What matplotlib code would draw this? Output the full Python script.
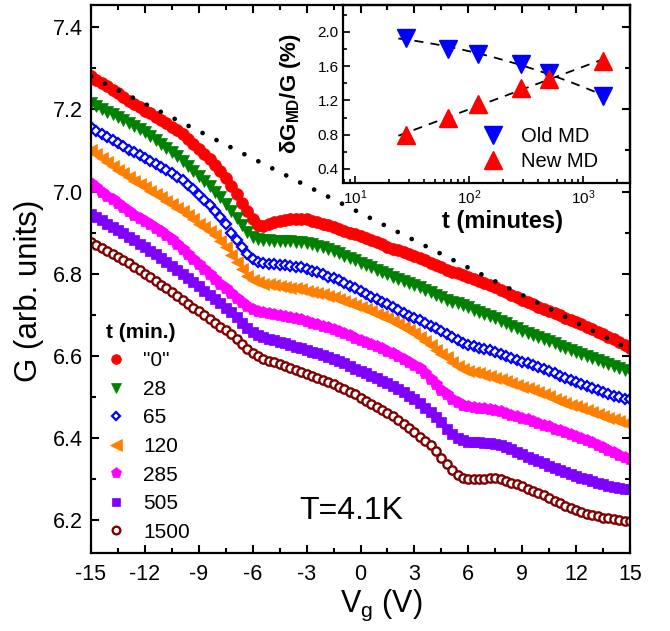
import numpy as np
import matplotlib
matplotlib.use("Agg")
import matplotlib.pyplot as plt
from matplotlib.ticker import MultipleLocator, LogLocator, NullFormatter

plt.rcParams['font.family'] = ['Liberation Sans', 'DejaVu Sans']
plt.rcParams['mathtext.fontset'] = 'custom'
plt.rcParams['mathtext.rm'] = 'Liberation Sans'
plt.rcParams['mathtext.it'] = 'Liberation Sans:italic'
plt.rcParams['mathtext.bf'] = 'Liberation Sans:bold'
plt.rcParams['axes.unicode_minus'] = False

# ---------------- data ----------------
vg = np.linspace(-15, 15, 101)

g_0 = [7.280, 7.272, 7.264, 7.256, 7.248, 7.240, 7.229, 7.220, 7.212, 7.205,
       7.197, 7.190, 7.182, 7.174, 7.166, 7.158, 7.149, 7.139, 7.128, 7.116,
       7.103, 7.091, 7.078, 7.065, 7.050, 7.033, 7.014, 6.994, 6.973, 6.953,
       6.933, 6.918, 6.917, 6.921, 6.925, 6.929, 6.931, 6.933, 6.933, 6.933,
       6.932, 6.929, 6.926, 6.922, 6.918, 6.914, 6.909, 6.905, 6.900, 6.896,
       6.891, 6.886, 6.881, 6.876, 6.871, 6.866, 6.861, 6.857, 6.853, 6.848,
       6.844, 6.839, 6.833, 6.827, 6.821, 6.815, 6.810, 6.805, 6.801, 6.797,
       6.793, 6.788, 6.783, 6.778, 6.773, 6.767, 6.761, 6.755, 6.749, 6.743,
       6.737, 6.731, 6.726, 6.720, 6.715, 6.710, 6.704, 6.699, 6.693, 6.688,
       6.683, 6.677, 6.671, 6.665, 6.659, 6.653, 6.646, 6.640, 6.633, 6.627,
       6.620]

g_28 = [7.215, 7.208, 7.201, 7.194, 7.188, 7.181, 7.174, 7.167, 7.160, 7.152,
        7.144, 7.135, 7.126, 7.116, 7.106, 7.096, 7.086, 7.075, 7.063, 7.050,
        7.037, 7.025, 7.013, 7.000, 6.986, 6.970, 6.953, 6.936, 6.919, 6.902,
        6.890, 6.884, 6.882, 6.881, 6.880, 6.880, 6.879, 6.879, 6.878, 6.877,
        6.875, 6.872, 6.868, 6.864, 6.859, 6.855, 6.850, 6.844, 6.838, 6.833,
        6.827, 6.821, 6.815, 6.810, 6.805, 6.799, 6.793, 6.788, 6.783, 6.777,
        6.772, 6.767, 6.761, 6.755, 6.749, 6.743, 6.737, 6.732, 6.728, 6.723,
        6.718, 6.712, 6.707, 6.702, 6.696, 6.691, 6.685, 6.679, 6.673, 6.667,
        6.661, 6.656, 6.651, 6.646, 6.641, 6.635, 6.630, 6.625, 6.620, 6.614,
        6.609, 6.604, 6.599, 6.594, 6.589, 6.584, 6.579, 6.575, 6.570, 6.566,
        6.562]

g_65 = [7.156, 7.148, 7.140, 7.133, 7.125, 7.117, 7.110, 7.102, 7.095, 7.088,
        7.081, 7.074, 7.067, 7.059, 7.052, 7.044, 7.036, 7.027, 7.017, 7.005,
        6.992, 6.979, 6.966, 6.952, 6.937, 6.920, 6.900, 6.882, 6.864, 6.847,
        6.835, 6.829, 6.826, 6.824, 6.823, 6.822, 6.821, 6.819, 6.817, 6.815,
        6.811, 6.807, 6.803, 6.798, 6.793, 6.789, 6.784, 6.778, 6.771, 6.764,
        6.757, 6.750, 6.744, 6.738, 6.731, 6.725, 6.718, 6.712, 6.705, 6.698,
        6.692, 6.686, 6.679, 6.673, 6.667, 6.660, 6.654, 6.646, 6.639, 6.632,
        6.627, 6.623, 6.620, 6.617, 6.613, 6.609, 6.605, 6.600, 6.595, 6.591,
        6.586, 6.582, 6.577, 6.572, 6.567, 6.562, 6.557, 6.551, 6.546, 6.541,
        6.536, 6.531, 6.526, 6.521, 6.516, 6.512, 6.507, 6.503, 6.499, 6.496,
        6.494]

g_120 = [7.100, 7.091, 7.081, 7.072, 7.062, 7.053, 7.044, 7.035, 7.026, 7.018,
         7.010, 7.002, 6.994, 6.986, 6.978, 6.970, 6.961, 6.952, 6.942, 6.932,
         6.922, 6.913, 6.903, 6.893, 6.880, 6.864, 6.846, 6.829, 6.812, 6.795,
         6.784, 6.779, 6.776, 6.774, 6.772, 6.770, 6.768, 6.766, 6.764, 6.762,
         6.759, 6.756, 6.753, 6.750, 6.746, 6.743, 6.739, 6.734, 6.729, 6.724,
         6.719, 6.714, 6.709, 6.703, 6.698, 6.691, 6.684, 6.677, 6.670, 6.663,
         6.655, 6.647, 6.637, 6.626, 6.615, 6.605, 6.596, 6.586, 6.576, 6.568,
         6.563, 6.560, 6.557, 6.554, 6.551, 6.547, 6.543, 6.539, 6.534, 6.530,
         6.525, 6.521, 6.516, 6.511, 6.506, 6.501, 6.496, 6.491, 6.486, 6.481,
         6.477, 6.472, 6.467, 6.463, 6.458, 6.454, 6.449, 6.445, 6.441, 6.437,
         6.433]

g_285 = [7.020, 7.010, 7.000, 6.990, 6.981, 6.972, 6.962, 6.953, 6.944, 6.936,
         6.928, 6.920, 6.912, 6.904, 6.894, 6.884, 6.872, 6.860, 6.847, 6.835,
         6.823, 6.811, 6.799, 6.787, 6.775, 6.764, 6.752, 6.741, 6.731, 6.722,
         6.715, 6.710, 6.707, 6.705, 6.703, 6.700, 6.698, 6.695, 6.692, 6.689,
         6.685, 6.681, 6.677, 6.673, 6.669, 6.665, 6.660, 6.655, 6.650, 6.644,
         6.639, 6.633, 6.628, 6.623, 6.618, 6.612, 6.606, 6.599, 6.592, 6.585,
         6.578, 6.570, 6.557, 6.544, 6.531, 6.518, 6.507, 6.496, 6.487, 6.481,
         6.477, 6.475, 6.474, 6.473, 6.471, 6.468, 6.465, 6.461, 6.457, 6.453,
         6.449, 6.445, 6.441, 6.437, 6.432, 6.428, 6.423, 6.419, 6.414, 6.410,
         6.405, 6.400, 6.395, 6.389, 6.383, 6.377, 6.371, 6.365, 6.359, 6.354,
         6.349]

g_505 = [6.946, 6.938, 6.930, 6.922, 6.914, 6.906, 6.898, 6.890, 6.881, 6.873,
         6.864, 6.856, 6.847, 6.838, 6.829, 6.819, 6.809, 6.799, 6.789, 6.779,
         6.769, 6.759, 6.748, 6.738, 6.728, 6.717, 6.706, 6.694, 6.681, 6.668,
         6.658, 6.651, 6.646, 6.642, 6.638, 6.634, 6.630, 6.626, 6.622, 6.618,
         6.614, 6.610, 6.606, 6.602, 6.597, 6.593, 6.588, 6.582, 6.576, 6.569,
         6.563, 6.557, 6.551, 6.545, 6.539, 6.533, 6.527, 6.520, 6.512, 6.503,
         6.494, 6.484, 6.474, 6.464, 6.452, 6.438, 6.423, 6.410, 6.400, 6.394,
         6.391, 6.390, 6.389, 6.388, 6.387, 6.385, 6.382, 6.377, 6.372, 6.366,
         6.360, 6.354, 6.349, 6.344, 6.339, 6.333, 6.328, 6.323, 6.318, 6.313,
         6.308, 6.303, 6.299, 6.295, 6.291, 6.287, 6.284, 6.281, 6.278, 6.276,
         6.275]

g_1500 = [6.877, 6.870, 6.863, 6.856, 6.848, 6.841, 6.833, 6.825, 6.817, 6.808,
          6.800, 6.791, 6.782, 6.773, 6.764, 6.755, 6.745, 6.736, 6.727, 6.717,
          6.708, 6.699, 6.690, 6.681, 6.671, 6.662, 6.652, 6.641, 6.629, 6.617,
          6.606, 6.599, 6.593, 6.588, 6.584, 6.580, 6.575, 6.571, 6.566, 6.561,
          6.556, 6.551, 6.546, 6.541, 6.536, 6.531, 6.525, 6.519, 6.513, 6.506,
          6.498, 6.491, 6.483, 6.476, 6.469, 6.461, 6.453, 6.444, 6.435, 6.425,
          6.414, 6.403, 6.393, 6.383, 6.368, 6.351, 6.336, 6.321, 6.309, 6.302,
          6.299, 6.299, 6.300, 6.301, 6.302, 6.302, 6.300, 6.296, 6.291, 6.287,
          6.282, 6.277, 6.272, 6.266, 6.260, 6.254, 6.247, 6.241, 6.235, 6.230,
          6.225, 6.220, 6.216, 6.212, 6.209, 6.206, 6.204, 6.202, 6.200, 6.199,
          6.198]

series_labels = ['"0"', '28', '65', '120', '285', '505', '1500']
series_values = [g_0, g_28, g_65, g_120, g_285, g_505, g_1500]

# dotted guide line
guide_v = [-15, 15]
guide_g = [7.280, 6.615]

# inset data
t_min = [28, 65, 120, 285, 505, 1500]
old_md = [1.93, 1.80, 1.74, 1.63, 1.52, 1.25]
new_md = [0.80, 1.00, 1.16, 1.34, 1.45, 1.66]

# ---------------- styles ----------------
styles = [
    dict(marker='o', color='#ff0000', ms=8.5, mec='#ff0000', mew=0.5),
    dict(marker='v', color='#008000', ms=9, mec='#008000', mew=0.5),
    dict(marker='D', color='#0000ff', ms=5.0, mfc='white', mec='#0000ff', mew=1.6),
    dict(marker='<', color='#ff8000', ms=9, mec='#ff8000', mew=0.5),
    dict(marker='p', color='#ff00ff', ms=9, mec='#ff00ff', mew=0.5),
    dict(marker='s', color='#8000ff', ms=7, mec='#8000ff', mew=0.5),
    dict(marker='o', color='#800000', ms=6, mfc='white', mec='#800000', mew=1.7),
]
legend_ms = [7, 7.5, 4.5, 8, 8, 6, 5.5]

fig = plt.figure(figsize=(6.7, 6.31), dpi=100)
ax = fig.add_axes([91/670, 1-553/631, (630-91)/670, (553-5)/631])

for lab, vals, st in zip(series_labels, series_values, styles):
    ax.plot(vg, vals, linestyle='none', label=lab, **st)

ax.plot(guide_v, guide_g, color='black', linewidth=3.4,
        linestyle=(0, (0.01, 3.3)), dash_capstyle='round', zorder=5)

ax.set_xlim(-15, 15)
ax.set_ylim(6.12, 7.454)
ax.xaxis.set_major_locator(MultipleLocator(3))
ax.xaxis.set_minor_locator(MultipleLocator(1.5))
ax.yaxis.set_major_locator(MultipleLocator(0.2))
ax.yaxis.set_minor_locator(MultipleLocator(0.1))
ax.tick_params(which='both', direction='in', top=True, right=True, width=1.5,
               labelsize=15.5)
ax.tick_params(which='major', length=6)
ax.tick_params(which='minor', length=3.5)
ax.tick_params(axis='x', pad=8)
ax.tick_params(axis='y', pad=6)
for sp in ax.spines.values():
    sp.set_linewidth(1.6)

ax.set_xlabel(r'V$_\mathregular{g}$ (V)', fontsize=22)
ax.set_ylabel('G (arb. units)', fontsize=22.5)
ax.xaxis.set_label_coords(0.539, -0.064)
ax.yaxis.set_label_coords(-0.087, 0.478)

ax.text(0.482, 0.077, 'T=4.1K', transform=ax.transAxes, fontsize=23,
        ha='center', va='center')

leg = ax.legend(loc='upper left', bbox_to_anchor=(0.0, 0.447), frameon=False,
                title='t (min.)', fontsize=15, numpoints=1, handlelength=1.0,
                handletextpad=0.8, labelspacing=0.46, borderaxespad=0.3,
                title_fontproperties={'weight': 'bold', 'size': 15})
leg._legend_box.align = 'left'
for h, m in zip(leg.legend_handles, legend_ms):
    h.set_markersize(m)

# ---------------- inset ----------------
axin = fig.add_axes([343/670, 1-183/631, (630-343)/670, (183-5)/631])
axin.patch.set_alpha(0.0)

lt = np.log10(t_min)
p_old = np.polyfit(lt, old_md, 2)
p_new = np.polyfit(lt, new_md, 1)
t_fit_old = np.geomspace(24, 1500, 60)
t_fit_new = np.geomspace(24, 1700, 60)
axin.plot(t_fit_old, np.polyval(p_old, np.log10(t_fit_old)), color='black',
          linestyle=(0, (5, 4)), linewidth=1.3, zorder=1)
axin.plot(t_fit_new, np.polyval(p_new, np.log10(t_fit_new)), color='black',
          linestyle=(0, (5, 4)), linewidth=1.3, zorder=1)
axin.plot(t_min, old_md, linestyle='none', marker='v', ms=13, color='#0000ff',
          label='Old MD', zorder=2)
axin.plot(t_min, new_md, linestyle='none', marker='^', ms=13, color='#ff0000',
          label='New MD', zorder=2)

axin.set_xscale('log')
axin.set_xlim(7.85, 2583)
axin.set_ylim(0.236, 2.315)
axin.yaxis.set_major_locator(MultipleLocator(0.4))
axin.yaxis.set_minor_locator(MultipleLocator(0.2))
axin.xaxis.set_major_locator(LogLocator(base=10, numticks=10))
axin.xaxis.set_minor_locator(LogLocator(base=10, subs=np.arange(2, 10), numticks=20))
axin.xaxis.set_minor_formatter(NullFormatter())
axin.tick_params(which='both', direction='in', top=False, right=False,
                 width=1.2, labelsize=11)
axin.tick_params(which='major', length=5)
axin.tick_params(which='minor', length=3)
axin.tick_params(axis='x', pad=4)
axin.tick_params(axis='y', pad=3)
for sp in axin.spines.values():
    sp.set_linewidth(1.6)

axin.set_xlabel('t (minutes)', fontsize=17, fontweight='bold')
axin.xaxis.set_label_coords(0.557, -0.15)
axin.set_ylabel(r'$\mathbf{δG_{MD}/G}$ (%)', fontsize=16, fontweight='bold')
axin.yaxis.set_label_coords(-0.14, 0.5)

axin.legend(loc='lower right', bbox_to_anchor=(0.93, 0.0), frameon=False,
            fontsize=14.5, numpoints=1, handlelength=1.0, handletextpad=0.9,
            labelspacing=0.3, borderaxespad=0.2)

fig.savefig('out.png', dpi=100)
